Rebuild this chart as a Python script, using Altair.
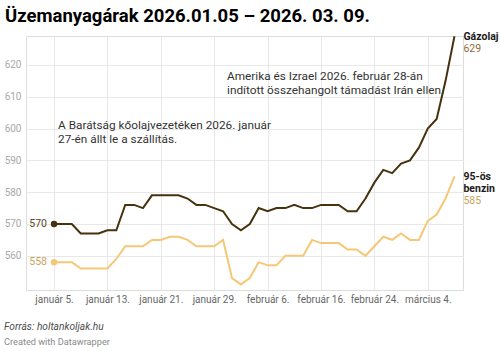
import altair as alt
import pandas as pd

# ---- data -------------------------------------------------------------
dates = [
    "január 5.", "január 6.", "január 7.", "január 8.", "január 9.",
    "január 12.", "január 13.", "január 14.", "január 15.", "január 16.",
    "január 19.", "január 20.", "január 21.", "január 22.", "január 23.",
    "január 26.", "január 27.", "január 28.", "január 29.", "január 30.",
    "február 2.", "február 3.", "február 4.", "február 5.", "február 6.",
    "február 9.", "február 10.", "február 11.", "február 12.", "február 13.",
    "február 16.", "február 17.", "február 18.", "február 19.", "február 20.",
    "február 23.", "február 24.", "február 25.", "február 26.", "február 27.",
    "március 2.", "március 3.", "március 4.", "március 5.", "március 6.",
    "március 9.",
]
gazolaj = [570, 570, 570, 567, 567, 567, 568, 568, 576, 576,
           575, 579, 579, 579, 579, 578, 576, 576, 575, 574,
           570, 568, 570, 575, 574, 575, 575, 576, 575, 575,
           576, 576, 576, 574, 574, 578, 583, 587, 586, 589,
           590, 594, 600, 603, 615, 629]
benzin = [558, 558, 558, 556, 556, 556, 556, 559, 563, 563,
          563, 565, 565, 566, 566, 565, 563, 563, 563, 565,
          553, 551, 553, 558, 557, 557, 560, 560, 560, 565,
          564, 564, 564, 562, 562, 560, 563, 566, 565, 567,
          565, 565, 571, 573, 578, 585]
series_names = ["Gázolaj", "95-ös benzin"]
series_labels = [["Gázolaj"], ["95-ös", "benzin"]]
tick_labels = ["január 5.", "január 13.", "január 21.", "január 29.",
               "február 6.", "február 16.", "február 24.", "március 4."]
y_ticks = [560, 570, 580, 590, 600, 610, 620]

annotations = [
    "A Barátság kőolajvezetéken 2026. január\n27-én állt le a szállítás.",
    "Amerika és Izrael 2026. február 28-án\nindított összehangolt támadást Irán ellen.",
]
annot_date_pos = [0.45, 19.44]
annot_value_pos = [599.9, 615.3]

title = "Üzemanyagárak 2026.01.05 – 2026. 03. 09."
source = "Forrás: holtankoljak.hu"
credit = "Created with Datawrapper"

# ---- styling ----------------------------------------------------------
line_colors = ["#47320f", "#f7c778"]
start_label_colors = ["#5a4622", "#c9a35e"]
end_value_colors = ["#8c6d3c", "#c9a35e"]
FONT = "Roboto"

n = len(dates)
df = pd.DataFrame({
    "idx": list(range(n)) * 2,
    "date": dates * 2,
    "series": [series_names[0]] * n + [series_names[1]] * n,
    "value": gazolaj + benzin,
})

tick_idx = [dates.index(t) for t in tick_labels]
label_expr = "[" + ",".join("'" + d + "'" for d in dates) + "][datum.value]"

x = alt.X("idx:Q",
          scale=alt.Scale(domain=[-3.15, 45.96], nice=False, zero=False),
          axis=alt.Axis(values=tick_idx, labelExpr=label_expr, title=None,
                        grid=True, gridColor="#e8e8e8", domain=False, ticks=False,
                        labelFont=FONT, labelFontSize=10, labelColor="#666666",
                        labelPadding=4, labelFlush=False))
y = alt.Y("value:Q",
          scale=alt.Scale(domain=[549.25, 629.1], nice=False, zero=False),
          axis=alt.Axis(values=y_ticks, title=None, grid=True, gridColor="#e8e8e8",
                        domain=False, ticks=False, labelFont=FONT, labelFontSize=10,
                        labelColor="#a8a8a8", labelPadding=5))
color = alt.Color("series:N", scale=alt.Scale(domain=series_names, range=line_colors),
                  legend=None)

base = alt.Chart(df)

lines = base.mark_line(strokeWidth=2).encode(x=x, y=y, color=color, detail="series:N")
dots = base.transform_filter("datum.idx == 0").mark_circle(size=42, opacity=1).encode(
    x=x, y=y, color=color)

layers = [lines, dots]

last = n - 1
LH = 11.8
for i, s in enumerate(series_names):
    start = base.transform_filter(
        f"datum.idx == 0 && datum.series == '{s}'"
    ).mark_text(align="right", baseline="middle", dx=-7, font=FONT, fontSize=10.5,
                color=start_label_colors[i]).encode(x=x, y=y, text="value:Q")
    layers.append(start)
    for k, part in enumerate(series_labels[i]):
        name = base.transform_filter(
            f"datum.idx == {last} && datum.series == '{s}'"
        ).mark_text(align="left", baseline="alphabetic", dx=9, dy=3.8 + LH * k,
                    font=FONT, fontSize=10.5, fontWeight="bold", color="#1a1a1a"
                    ).encode(x=x, y=y, text=alt.value(part))
        layers.append(name)
    endv = base.transform_filter(
        f"datum.idx == {last} && datum.series == '{s}'"
    ).mark_text(align="left", baseline="alphabetic", dx=9,
                dy=3.8 + LH * len(series_labels[i]),
                font=FONT, fontSize=10.5, color=end_value_colors[i]
                ).encode(x=x, y=y, text="value:Q")
    layers.append(endv)

ann_df = pd.DataFrame({"idx": annot_date_pos, "value": annot_value_pos,
                       "text": annotations})
ann = alt.Chart(ann_df).mark_text(align="left", baseline="alphabetic", lineBreak="\n",
                                  lineHeight=14.5, font=FONT, fontSize=11.8,
                                  color="#333333").encode(x=x, y=y, text="text:N")
layers.append(ann)

title_df = pd.DataFrame({"t": [title]})
ttl = alt.Chart(title_df).mark_text(align="left", baseline="alphabetic", font=FONT,
                                    fontSize=18.5, fontWeight="bold", color="#000000"
                                    ).encode(x=alt.value(-21), y=alt.value(-14.5), text="t:N")

foot_df = pd.DataFrame({"t": [source]})
foot = alt.Chart(foot_df).mark_text(align="left", baseline="alphabetic", font=FONT,
                                    fontSize=10.2, fontStyle="italic", color="#4d4d4d"
                                    ).encode(x=alt.value(-22), y=alt.value(293.5), text="t:N")
cred_df = pd.DataFrame({"t": [credit]})
cred = alt.Chart(cred_df).mark_text(align="left", baseline="alphabetic", font=FONT,
                                    fontSize=9.2, color="#8a8a8a"
                                    ).encode(x=alt.value(-22), y=alt.value(309), text="t:N")
layers += [ttl, foot, cred]

chart = alt.layer(*layers).properties(
    width=437, height=254,
    padding={"left": 26, "right": 37, "top": 36, "bottom": 61},
    autosize=alt.AutoSizeParams(type="none"),
).configure_view(stroke=None).configure(background="white")

chart.save("out.html", embed_options={"renderer": "svg", "actions": False})
